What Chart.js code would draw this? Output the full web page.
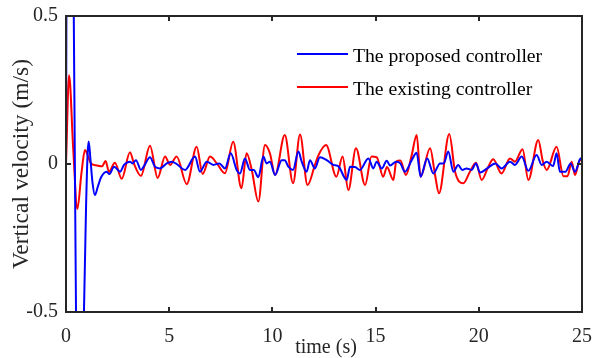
<!DOCTYPE html>
<html>
<head>
<meta charset="utf-8">
<script src="https://cdn.jsdelivr.net/npm/chart.js@4.4.1/dist/chart.umd.min.js"></script>
<style>
  html, body { margin: 0; padding: 0; background: #fff; }
  canvas { display: block; }
</style>
</head>
<body>
<canvas id="velChart" width="598" height="358"></canvas>
<script>
// data: time (s) and vertical velocity (m/s)
const blueT = [0, 0.05, 0.2, 0.3, 0.62, 0.75, 0.87, 0.97, 1.05, 1.1, 1.18, 1.28, 1.4, 1.55, 1.7, 1.97, 2.1, 2.33, 2.62, 2.81, 3.1, 3.23, 3.39, 3.63, 3.78, 4.07, 4.31, 4.55, 4.88, 5.12, 5.36, 5.77, 6.25, 6.49, 6.82, 7.14, 7.43, 7.7, 7.98, 8.27, 8.43, 8.67, 8.91, 9.1, 9.32, 9.56, 9.72, 9.88, 10.13, 10.45, 10.6, 10.77, 11.0, 11.26, 11.42, 11.66, 11.82, 12.06, 12.3, 12.63, 12.95, 13.2, 13.6, 13.76, 14.0, 14.24, 14.65, 14.89, 15.05, 15.3, 15.54, 15.7, 16.0, 16.2, 16.42, 16.75, 16.99, 17.18, 17.5, 17.8, 18.12, 18.3, 18.52, 18.77, 19.0, 19.2, 19.41, 19.65, 19.86, 20.06, 20.4, 20.8, 21.1, 21.51, 21.75, 22.08, 22.4, 22.8, 23.05, 23.29, 23.6, 23.77, 23.93, 24.2, 24.45, 24.66, 24.9, 25];
const blueV = [0, 1.2, 1.8, 1.14, -1.14, -1.0, -0.5, -0.15, 0.04, 0.076, 0.02, -0.06, -0.105, -0.075, -0.045, -0.026, -0.034, -0.009, -0.026, -0.003, 0.008, 0.002, 0.013, -0.02, -0.007, 0.023, -0.009, -0.015, 0.002, 0.008, 0, -0.02, 0.025, -0.026, 0.008, -0.003, 0.002, -0.015, 0.036, -0.02, -0.032, 0.019, -0.02, -0.02, -0.045, 0.025, 0.002, 0.008, -0.037, 0.013, 0.013, -0.009, -0.02, 0.042, 0.008, -0.026, 0.013, -0.015, 0.023, 0.013, -0.003, -0.008, -0.054, -0.009, -0.01, -0.02, 0.019, -0.015, 0.008, -0.015, 0.011, -0.005, 0.008, 0.002, -0.026, 0.013, 0.038, -0.043, 0.019, -0.032, 0.002, 0.002, 0.042, -0.026, -0.003, -0.02, -0.015, -0.02, 0.002, -0.029, -0.015, 0.002, -0.015, 0.008, -0.003, 0.025, -0.023, 0.03, -0.003, 0.008, -0.007, 0.036, -0.026, -0.026, 0.002, -0.026, 0.016, 0.02];

const redT = [0, 0.15, 0.35, 0.55, 0.75, 0.92, 1.05, 1.2, 1.5, 1.74, 1.92, 2.08, 2.37, 2.7, 3.1, 3.3, 3.63, 4.07, 4.44, 4.8, 5.04, 5.36, 5.85, 6.33, 6.62, 6.98, 7.3, 7.7, 8.1, 8.5, 8.75, 9.0, 9.32, 9.64, 9.88, 10.13, 10.6, 11.0, 11.34, 11.7, 12.06, 12.2, 12.6, 13.1, 13.4, 13.68, 14.05, 14.49, 14.8, 15.05, 15.37, 15.55, 15.86, 16.0, 16.2, 16.47, 16.75, 16.99, 17.18, 17.64, 17.88, 18.07, 18.57, 18.85, 19.25, 19.57, 19.86, 20.14, 20.46, 20.7, 21.1, 21.51, 21.75, 22.12, 22.4, 22.88, 23.1, 23.29, 23.77, 24.1, 24.3, 24.5, 24.66, 24.9, 25];
const redV = [0, 0.30, 0.05, -0.152, -0.03, 0.047, 0.03, 0.003, -0.005, -0.008, 0.01, -0.026, 0.004, -0.05, 0.04, 0.0, -0.04, 0.062, -0.047, 0.025, -0.003, 0.025, -0.068, 0.058, -0.034, 0.025, 0.003, -0.031, 0.075, -0.082, 0.036, -0.02, -0.127, 0.064, 0.036, -0.037, 0.098, -0.065, 0.1, -0.071, -0.003, 0.025, 0.064, -0.043, 0.025, -0.088, 0.053, -0.071, 0.025, 0.023, -0.043, -0.01, -0.054, 0.008, 0.012, -0.037, 0.03, 0.098, -0.043, 0.053, -0.037, -0.099, 0.101, -0.026, -0.065, -0.026, 0.004, -0.054, -0.009, 0.016, -0.032, 0.019, 0.008, 0.05, -0.054, 0.081, 0.01, -0.02, 0.058, -0.041, -0.041, 0.008, -0.037, 0.013, 0.01];

const seriesNames = ['The proposed controller', 'The existing controller'];
const xTicks = [0, 5, 10, 15, 20, 25];
const yTicks = [-0.5, 0, 0.5];
const xTitle = 'time (s)';
const yTitle = 'Vertical velocity (m/s)';

const serif = "'Liberation Serif', 'Times New Roman', serif";
const axisColor = '#262626';

function toPoints(ts, vs) {
    return ts.map((t, i) => ({ x: t, y: vs[i] }));
}

// box, inward ticks, axis titles and legend, MATLAB style
const matlabFrame = {
    id: 'matlabFrame',
    afterDatasetsDraw(chart) {
        const ctx = chart.ctx;
        const a = chart.chartArea;
        const xs = chart.scales.x, ys = chart.scales.y;
        ctx.save();
        ctx.strokeStyle = axisColor;
        ctx.lineWidth = 2;
        ctx.beginPath();
        xTicks.forEach(v => {
            const px = Math.round(xs.getPixelForValue(v));
            ctx.moveTo(px, a.bottom); ctx.lineTo(px, a.bottom - 5);
            ctx.moveTo(px, a.top); ctx.lineTo(px, a.top + 5);
        });
        yTicks.forEach(v => {
            const py = Math.round(ys.getPixelForValue(v));
            ctx.moveTo(a.left, py); ctx.lineTo(a.left + 5, py);
            ctx.moveTo(a.right, py); ctx.lineTo(a.right - 5, py);
        });
        ctx.stroke();
        ctx.strokeRect(a.left, a.top, a.right - a.left, a.bottom - a.top);

        // legend
        const rows = [{ c: '#0000ff', y: 54 }, { c: '#ff0000', y: 87 }];
        ctx.font = '19.7px ' + serif;
        ctx.textBaseline = 'alphabetic';
        ctx.textAlign = 'left';
        rows.forEach((r, i) => {
            ctx.strokeStyle = r.c;
            ctx.lineWidth = 2;
            ctx.beginPath();
            ctx.moveTo(297, r.y); ctx.lineTo(348, r.y);
            ctx.stroke();
            ctx.fillStyle = '#000';
            ctx.fillText(seriesNames[i], 353, r.y + 8);
        });

        // axis titles
        ctx.fillStyle = axisColor;
        ctx.textAlign = 'center';
        ctx.font = '20px ' + serif;
        ctx.fillText(xTitle, 326, 353);
        ctx.translate(22, 164);
        ctx.rotate(-Math.PI / 2);
        ctx.font = '23.5px ' + serif;
        ctx.textBaseline = 'middle';
        ctx.fillText(yTitle, 0, 0);
        ctx.restore();
    }
};

new Chart(document.getElementById('velChart'), {
    type: 'line',
    data: {
        datasets: [{
            label: seriesNames[0],
            data: toPoints(blueT, blueV),
            borderColor: '#0000ff',
            borderWidth: 2,
            pointRadius: 0,
            cubicInterpolationMode: 'monotone',
            fill: false,
            clip: 0
        }, {
            label: seriesNames[1],
            data: toPoints(redT, redV),
            borderColor: '#ff0000',
            borderWidth: 2,
            pointRadius: 0,
            cubicInterpolationMode: 'monotone',
            fill: false,
            clip: 0
        }]
    },
    options: {
        responsive: false,
        animation: false,
        devicePixelRatio: 1,
        layout: { padding: { left: 0, right: 16, top: 16, bottom: 0 } },
        plugins: {
            legend: { display: false },
            tooltip: { enabled: false }
        },
        scales: {
            x: {
                type: 'linear',
                min: 0,
                max: 25,
                grid: { display: false, drawTicks: false },
                border: { display: false },
                afterFit: s => { s.height = 46; s.paddingLeft = 0; s.paddingRight = 0; },
                afterBuildTicks: s => { s.ticks = xTicks.map(v => ({ value: v })); },
                ticks: {
                    padding: 13,
                    color: axisColor,
                    font: { family: serif, size: 20 },
                    callback: v => String(v)
                }
            },
            y: {
                min: -0.5,
                max: 0.5,
                grid: { display: false, drawTicks: false },
                border: { display: false },
                afterFit: s => { s.width = 66; s.paddingTop = 0; s.paddingBottom = 0; },
                afterBuildTicks: s => { s.ticks = yTicks.map(v => ({ value: v })); },
                ticks: {
                    padding: 8,
                    color: axisColor,
                    font: { family: serif, size: 20 },
                    callback: v => String(v)
                }
            }
        }
    },
    plugins: [matlabFrame]
});
</script>
</body>
</html>
